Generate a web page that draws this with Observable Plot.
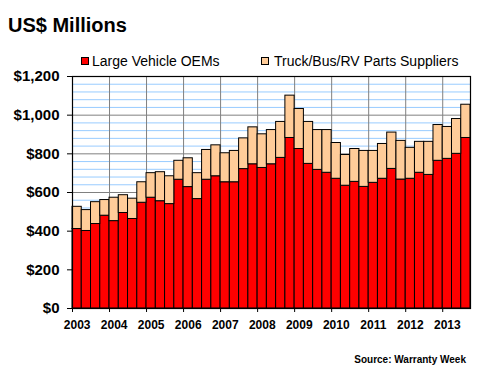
<!DOCTYPE html>
<html>
<head>
<meta charset="utf-8">
<script src="https://cdn.jsdelivr.net/npm/d3@7"></script>
<script src="https://cdn.jsdelivr.net/npm/@observablehq/plot@0.6"></script>
<style>
  html, body { margin: 0; padding: 0; background: white; }
  #wrap { position: relative; width: 480px; height: 380px; font-family: Arial, "Liberation Sans", sans-serif; color: black; }
  #wrap svg { position: absolute; left: 0; top: 0; }
  .ov { position: absolute; white-space: nowrap; line-height: 1; }
  .sw { position: absolute; width: 6px; height: 6px; border: 1px solid black; }
</style>
</head>
<body>
<div id="wrap">
  <div id="chart"></div>
  <div class="ov" style="left:8px; top:14.5px; font-size:20px; font-weight:bold;">US$ Millions</div>
  <div class="sw" style="left:81px; top:57px; background:#FF0000;"></div>
  <div class="ov" style="left:92px; top:54px; font-size:14px;">Large Vehicle OEMs</div>
  <div class="sw" style="left:261px; top:57px; background:#FFCC99;"></div>
  <div class="ov" style="left:274px; top:54px; font-size:14px;">Truck/Bus/RV Parts Suppliers</div>
  <div class="ov" style="right:14px; top:354.5px; font-size:10px; font-weight:bold;">Source: Warranty Week</div>
</div>
<script>
const years = ["2003","2004","2005","2006","2007","2008","2009","2010","2011","2012","2013"];
const quarters = [];
years.forEach(y => ["Q1","Q2","Q3","Q4"].forEach(q => quarters.push(y + " " + q)));
quarters.length = 43; // through 2013 Q3

const oems = [411,401,437,480, 452,494,463,547, 573,555,540,666, 628,566,666,684,
              653,653,721,746, 727,746,779,882, 825,748,717,702, 671,635,655,629,
              650,671,722,667, 671,702,691,764, 774,800,882];
const suppliers = [115,108,113,81, 121,92,105,106, 127,150,144,98, 149,134,154,160,
                   150,162,159,191, 174,177,186,219, 207,217,206,221, 185,159,170,186,
                   165,180,188,200, 160,160,171,185, 165,180,172];

const data = quarters.map((q, i) => ({i, q, oem: oems[i], sup: suppliers[i]}));

const fam = 'Arial, "Liberation Sans", sans-serif';

const chart = Plot.plot({
  width: 480,
  height: 380,
  marginTop: 76,
  marginBottom: 72,
  marginLeft: 72,
  marginRight: 10,
  style: {fontFamily: fam, background: "transparent", color: "black"},
  x: {type: "linear", domain: [0, quarters.length]},
  y: {domain: [0, 1200]},
  marks: [
    Plot.ruleY(d3.range(40, 1200, 40).filter(v => v % 200 !== 0), {stroke: "#99CCFF", strokeWidth: 1}),
    Plot.ruleY(d3.range(200, 1200, 200), {stroke: "#808080", strokeWidth: 1}),
    Plot.ruleX(d3.range(4, quarters.length, 4), {stroke: "#808080", strokeWidth: 1}),
    Plot.rect(data, {x1: "i", x2: d => d.i + 1, y1: 0, y2: "oem", fill: "#FF0000", stroke: "black", strokeWidth: 1}),
    Plot.rect(data, {x1: "i", x2: d => d.i + 1, y1: "oem", y2: d => d.oem + d.sup, fill: "#FFCC99", stroke: "black", strokeWidth: 1}),
    Plot.frame({stroke: "black", strokeWidth: 1.2}),
    Plot.axisY({ticks: d3.range(0, 1201, 200), tickSize: 5, tickPadding: 8,
      tickFormat: d => "$" + d3.format(",")(d), fontSize: 15, fontWeight: "bold", label: null}),
    Plot.axisX({ticks: d3.range(0, quarters.length, 4), tickSize: 4, tickFormat: () => "", label: null}),
    Plot.axisX({ticks: years.map((_, k) => k * 4 + 0.5), tickSize: 0, tickPadding: 12,
      tickFormat: d => years[Math.floor(d / 4)], fontSize: 12, fontWeight: "bold", label: null})
  ]
});
document.getElementById("chart").appendChild(chart);
</script>
</body>
</html>
